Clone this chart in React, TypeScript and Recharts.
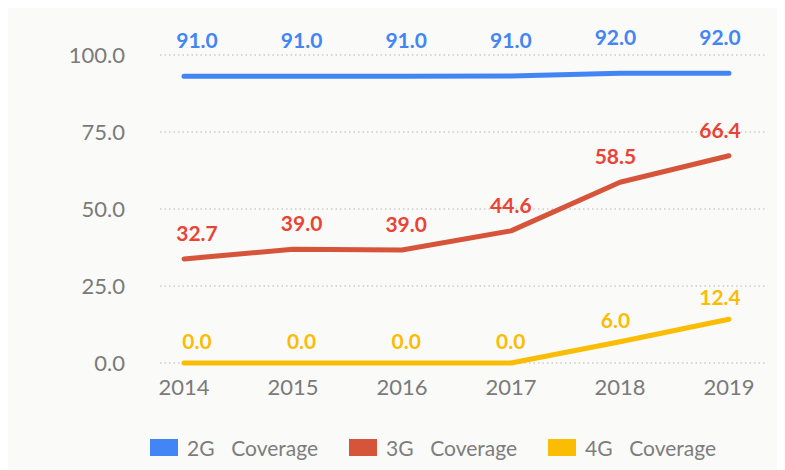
import React from 'react';
import { LineChart, Line, XAxis, YAxis, CartesianGrid, Legend, LabelList } from 'recharts';

// years on the x axis
const years = ['2014', '2015', '2016', '2017', '2018', '2019'];

// where the lines are drawn
const cov2G = [93.1, 93.1, 93.1, 93.2, 94.1, 94.1];
const cov3G = [33.8, 36.9, 36.7, 42.9, 58.7, 67.3];
const cov4G = [0, 0, 0, 0, 6.9, 14.2];

// the printed value labels
const label2G = [91.0, 91.0, 91.0, 91.0, 92.0, 92.0];
const label3G = [32.7, 39.0, 39.0, 44.6, 58.5, 66.4];
const label4G = [0.0, 0.0, 0.0, 0.0, 6.0, 12.4];

const yTicks = [0, 25, 50, 75, 100];

const series = [
  { key: 'g2', name: '2G  Coverage', line: '#4285F4', text: '#4285F4', offset: 28 },
  { key: 'g3', name: '3G  Coverage', line: '#D6553A', text: '#EA4335', offset: 18 },
  { key: 'g4', name: '4G  Coverage', line: '#FBBC04', text: '#FBBC04', offset: 14 },
];

const rows = years.map((year, i) => ({
  year,
  g2: cov2G[i],
  g3: cov3G[i],
  g4: cov4G[i],
  g2Label: label2G[i].toFixed(1),
  g3Label: label3G[i].toFixed(1),
  g4Label: label4G[i].toFixed(1),
}));

const FONT = 'Lato, "Noto Sans", sans-serif';

const LegendBox = () => (
  <div style={{ display: 'flex', alignItems: 'center', height: 30, paddingLeft: 142, fontFamily: FONT }}>
    {series.map((s) => (
      <div key={s.key} style={{ display: 'flex', alignItems: 'center', width: 199 }}>
        <span style={{ width: 28, height: 17, background: s.line, display: 'inline-block', marginRight: 9 }} />
        <span style={{ fontSize: 21, color: '#7d7d7d', whiteSpace: 'pre', wordSpacing: 3 }}>{s.name}</span>
      </div>
    ))}
  </div>
);

export default function App() {
  return (
    <div style={{ width: 777, height: 462, background: '#fafaf8' }}>
      <LineChart width={777} height={462} data={rows} margin={{ top: 47, right: 18, bottom: 8, left: 0 }}>
        <CartesianGrid vertical={false} stroke="#b5b5b5" strokeDasharray="1.5 3" />
        <XAxis
          dataKey="year"
          height={69}
          axisLine={false}
          tickLine={false}
          tickSize={0}
          tickMargin={16}
          padding={{ left: 24, right: 38 }}
          tick={{ fill: '#7a7a7a', fontSize: 22, fontFamily: FONT }}
        />
        <XAxis xAxisId="lbl" dataKey="year" hide padding={{ left: 37, right: 47 }} />
        <YAxis
          width={152}
          domain={[0, 100]}
          ticks={yTicks}
          axisLine={false}
          tickLine={false}
          tickSize={0}
          tickMargin={35}
          tickFormatter={(v) => Number(v).toFixed(1)}
          tick={{ fill: '#7a7a7a', fontSize: 22, fontFamily: FONT }}
        />
        <Legend
          verticalAlign="bottom"
          content={<LegendBox />}
          wrapperStyle={{ left: 0, width: 777 }}
        />
        {series.map((s) => (
          <Line
            key={s.key}
            type="linear"
            dataKey={s.key}
            name={s.name}
            stroke={s.line}
            strokeWidth={5}
            strokeLinecap="round"
            strokeLinejoin="round"
            dot={false}
            activeDot={false}
            isAnimationActive={false}
          />
        ))}
        {series.map((s) => (
          <Line
            key={s.key + 'lbl'}
            xAxisId="lbl"
            type="linear"
            dataKey={s.key}
            stroke="none"
            dot={false}
            activeDot={false}
            legendType="none"
            isAnimationActive={false}
          >
            <LabelList
              dataKey={s.key + 'Label'}
              position="top"
              offset={s.offset}
              fill={s.text}
              fontSize={21}
              fontWeight={700}
              fontFamily={FONT}
            />
          </Line>
        ))}
      </LineChart>
    </div>
  );
}
